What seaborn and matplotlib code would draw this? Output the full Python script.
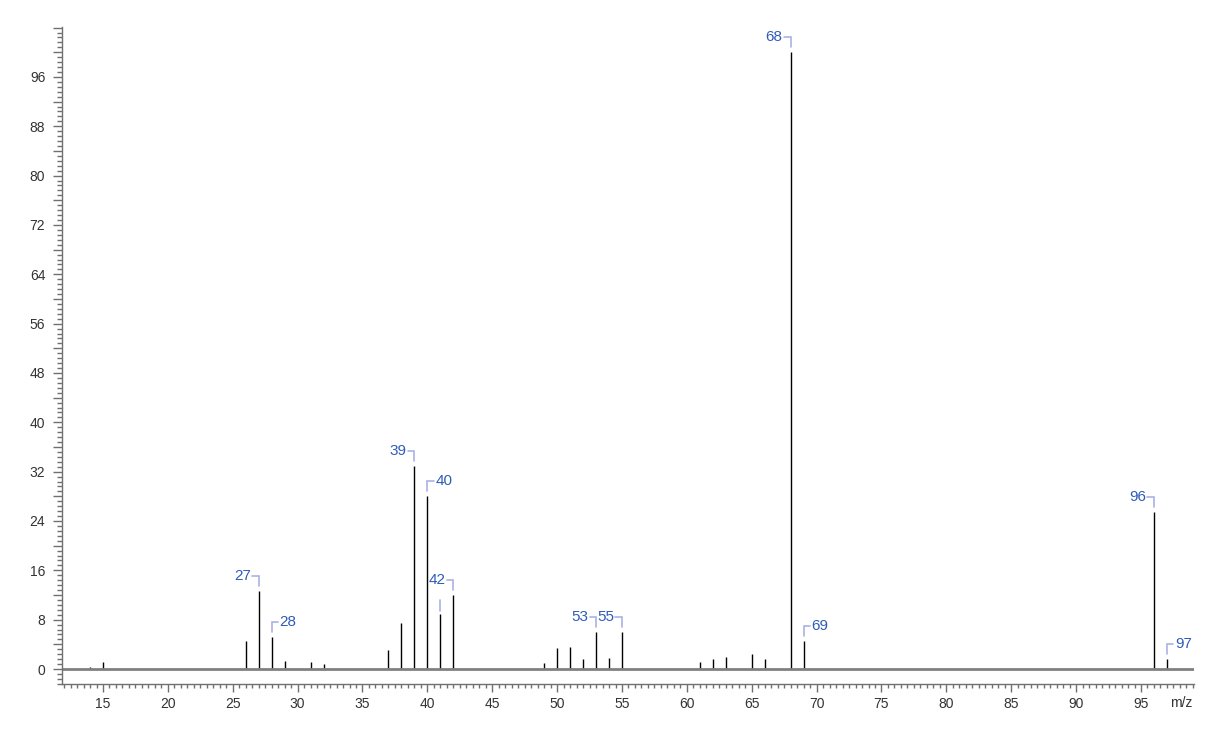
import pandas as pd
import matplotlib
matplotlib.use("Agg")
import matplotlib.pyplot as plt
import matplotlib.ticker as mticker
import seaborn as sns

# ── Data ─────────────────────────────────────────────────────────────────────

mz = [14, 15, 26, 27, 28, 29, 31, 32, 37, 38, 39, 40, 41, 42,
      49, 50, 51, 52, 53, 54, 55, 61, 62, 63, 65, 66, 68, 69, 96, 97]
intensity = [0.4, 1.2, 4.5, 12.6, 5.2, 1.35, 1.1, 0.8, 3.1, 7.5, 32.9, 28.1, 8.9, 12.0,
             0.9, 3.35, 3.6, 1.6, 6.0, 1.8, 6.05, 1.2, 1.7, 1.9, 2.5, 1.6, 100.0, 4.6, 25.4, 1.6]

# labelled peaks, with the side where the label sits
labels_left = [27, 39, 42, 53, 55, 68, 96]
labels_right = [28, 40, 69, 97]
# peak whose label was hidden (only the leader stub is drawn)
stub_only = [41]

# ── Style ────────────────────────────────────────────────────────────────────

sns.set_theme(style="ticks")
plt.rcParams["font.family"] = ["Liberation Sans", "DejaVu Sans"]

LABEL_COLOR = "#2f5cb8"
LEADER_COLOR = "#a9b1e6"
AXIS_COLOR = "#707070"
TEXT_COLOR = "#333333"

W, H = 1216, 744
fig = plt.figure(figsize=(W / 100, H / 100), dpi=100)
ax = fig.add_axes([62 / W, 60 / H, (1194 - 62) / W, (684 - 27) / H])

# stick spectrum: near-zero-width bars, drawn by their black outline
df = pd.DataFrame({"mz": mz, "intensity": intensity})
sns.barplot(data=df, x="mz", y="intensity", native_scale=True, width=0.001,
            color="black", saturation=1, edgecolor="black", linewidth=1.0, ax=ax)

xlim = (11.84, 99.085)
ylim = (-2.43, 104.1)
ax.set_xlim(*xlim)
ax.set_ylim(*ylim)

# px -> data units
px_x = (xlim[1] - xlim[0]) / (1194 - 62)
px_y = (ylim[1] - ylim[0]) / (684 - 27)

# zero baseline
ax.axhline(0, color="#808080", lw=2, zorder=1)

# ── Axes / ticks ─────────────────────────────────────────────────────────────

ax.set_xlabel("")
ax.set_ylabel("")
sns.despine(ax=ax)
for side in ["left", "bottom"]:
    ax.spines[side].set_color(AXIS_COLOR)
    ax.spines[side].set_linewidth(1)

ax.xaxis.set_major_locator(mticker.MultipleLocator(5))
ax.xaxis.set_minor_locator(mticker.MultipleLocator(0.5))
ax.xaxis.set_major_formatter(mticker.FuncFormatter(
    lambda v, p: f"{v:.0f}" if 15 <= v <= 95 else ""))
ax.yaxis.set_major_locator(mticker.MultipleLocator(4))
ax.yaxis.set_minor_locator(mticker.MultipleLocator(0.8))
ax.yaxis.set_major_formatter(mticker.FuncFormatter(
    lambda v, p: f"{v:.0f}" if v % 8 == 0 and 0 <= v <= 96 else ""))

ax.tick_params(axis="both", which="major", color=AXIS_COLOR, labelcolor=TEXT_COLOR,
               labelsize=10, width=1)
ax.tick_params(axis="y", which="major", length=6.5, pad=5.5)
ax.tick_params(axis="y", which="minor", length=3.6, width=1, color=AXIS_COLOR)
ax.tick_params(axis="x", which="major", length=6, pad=3.5)
ax.tick_params(axis="x", which="minor", length=3.2, width=1, color=AXIS_COLOR)

# axis unit label sits in the tick-label row, right of the last tick label
fig.text(1181 / W, 1 - 696 / H, "m/z", fontsize=10, color=TEXT_COLOR,
         ha="center", va="top")

# ── Peak labels with leader brackets ─────────────────────────────────────────

height = dict(zip(mz, intensity))
gap, leg, arm = 5 * px_y, 10 * px_y, 6.5 * px_x


def leader(m, side):
    top = height[m]
    y0 = top + gap
    y1 = y0 + leg
    if side == "left":
        xs = [m, m, m - arm]
        tx, ha = m - arm - 1.5 * px_x, "right"
    else:
        xs = [m, m, m + arm]
        tx, ha = m + arm + 1.5 * px_x, "left"
    ax.plot(xs, [y0, y1, y1], color=LEADER_COLOR, lw=1.2, solid_joinstyle="miter",
            zorder=3, clip_on=False)
    ax.text(tx, y1, str(m), color=LABEL_COLOR, fontsize=11, ha=ha, va="center",
            zorder=4)


for m in labels_left:
    leader(m, "left")
for m in labels_right:
    leader(m, "right")
for m in stub_only:
    y0 = height[m] + 3 * px_y
    ax.plot([m, m], [y0, y0 + 11 * px_y], color=LEADER_COLOR, lw=1.2, zorder=3)

plt.savefig("out.png", dpi=100)
plt.close()
